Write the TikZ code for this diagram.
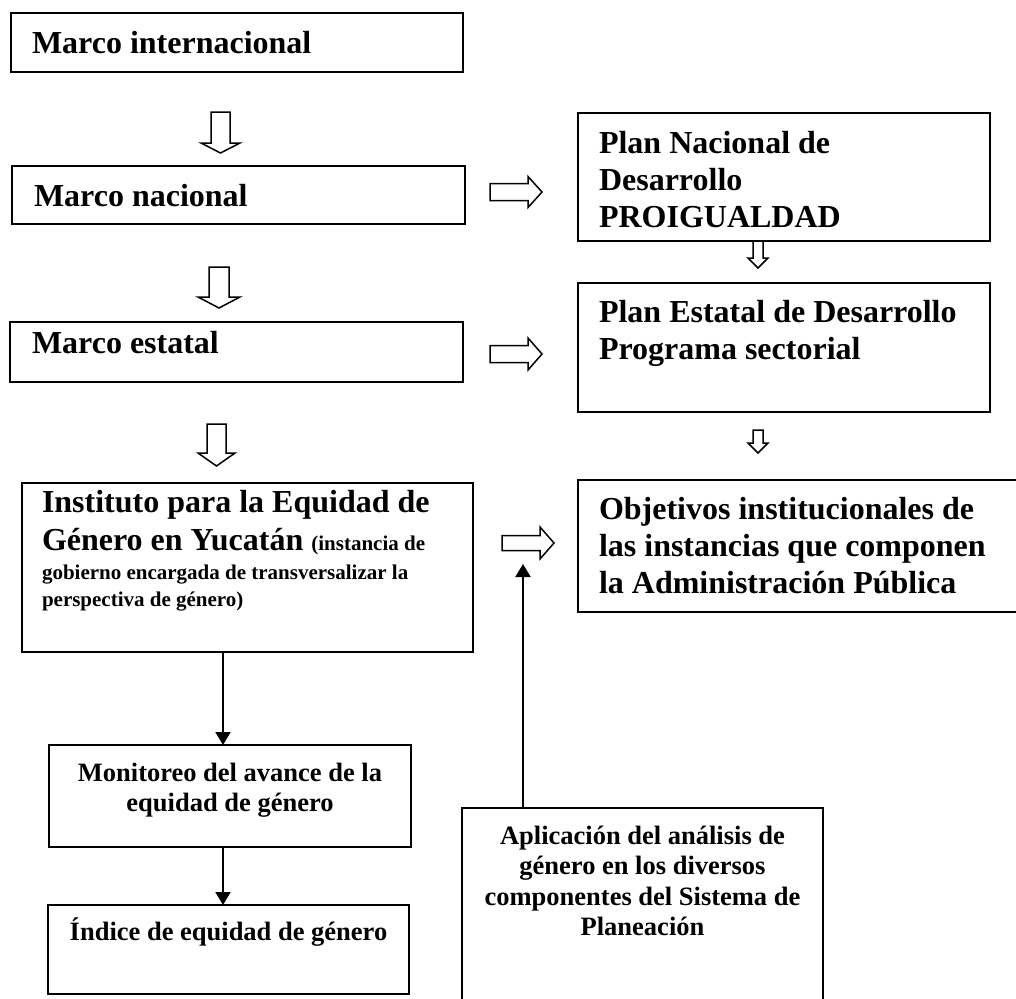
\documentclass[tikz,border=0pt]{standalone}
\usepackage{fontspec}
\setmainfont{Liberation Serif}
\usetikzlibrary{arrows.meta}
\begin{document}
\begin{tikzpicture}[x=1pt,y=-1pt,
  box/.style={draw, line width=2pt, rectangle, inner sep=0pt, outer sep=0pt},
  txt/.style={inner sep=0pt, outer sep=0pt, anchor=base west, font=\bfseries\fontsize{32}{37}\selectfont},
  ctxt/.style={inner sep=0pt, outer sep=0pt, anchor=base, font=\bfseries\fontsize{26.5}{30.5}\selectfont},
  blk/.style={draw, line width=1.5pt, line join=miter, fill=white},
  conn/.style={line width=2pt, -{Triangle[length=13pt,width=15pt]}}]
\clip (0,0) rectangle (1016,998);
\fill[white] (0,0) rectangle (1016,998);

% left column boxes
\node[box, minimum width=452pt, minimum height=59pt] (b1) at (237,42.5) {};
\node[txt] (t1) at (32,53) {Marco internacional};
\node[box, minimum width=453pt, minimum height=58pt] (b2) at (238.5,195) {};
\node[txt] (t2) at (34,206) {Marco nacional};
\node[box, minimum width=453pt, minimum height=60pt] (b3) at (236.5,352) {};
\node[txt] (t3) at (32,353) {Marco estatal};

% right column boxes
\node[box, minimum width=412pt, minimum height=128pt] (pn) at (784,177) {};
\node[txt] (tpn) at (599,153) {\parbox[t]{380pt}{\raggedright Plan Nacional de\\Desarrollo\\PROIGUALDAD}};
\node[box, minimum width=412pt, minimum height=129pt] (pe) at (784,347.5) {};
\node[txt] (tpe) at (599,322) {\parbox[t]{390pt}{\raggedright Plan Estatal de Desarrollo\\Programa sectorial}};
\node[box, minimum width=446pt, minimum height=132pt] (ob) at (801,546) {};
\node[txt] (tob) at (599,519) {\parbox[t]{420pt}{\raggedright Objetivos institucionales de\\las instancias que componen\\la Administración Pública}};

% Instituto
\node[box, minimum width=451pt, minimum height=169pt] (in) at (247.5,567.5) {};
\node[txt] (ti1) at (42,512) {Instituto para la Equidad de};
\node[txt] (ti2) at (42,550) {Género en Yucatán {\fontsize{21}{25}\selectfont (instancia de}};
\node[txt, font=\bfseries\fontsize{21}{25}\selectfont] (ti3) at (42,579) {gobierno encargada de transversalizar la};
\node[txt, font=\bfseries\fontsize{21}{25}\selectfont] (ti4) at (42,606) {perspectiva de género)};

% bottom boxes
\node[box, minimum width=362pt, minimum height=102pt] (mo) at (230,796) {};
\node[ctxt] (tmo) at (230,781) {\parbox[t]{350pt}{\centering Monitoreo del avance de la\\equidad de género}};
\node[box, minimum width=361pt, minimum height=89pt] (id) at (228.5,949.5) {};
\node[ctxt] (tid) at (228.5,940) {Índice de equidad de género};
\node[box, minimum width=361pt, minimum height=202pt] (ap) at (642.5,909) {};
\node[ctxt] (tap) at (642.5,844) {\parbox[t]{350pt}{\centering Aplicación del análisis de\\género en los diversos\\componentes del Sistema de\\Planeación}};

% block arrows down (left column)
\draw[blk] (211,112) -- (230,112) -- (230,143) -- (240,143) -- (220.5,153) -- (201,143) -- (211,143) -- cycle;
\draw[blk] (209,267) -- (229,267) -- (229,297) -- (240,297) -- (219,308) -- (198,297) -- (209,297) -- cycle;
\draw[blk] (207,424) -- (226,424) -- (226,453) -- (235,453) -- (216.5,466) -- (198,453) -- (207,453) -- cycle;

% small block arrows down (right column)
\draw[blk] (753,241) -- (763,241) -- (763,258) -- (768,258) -- (758,268) -- (748,258) -- (753,258) -- cycle;
\draw[blk] (753,430) -- (763,430) -- (763,443) -- (768,443) -- (758,453) -- (748,443) -- (753,443) -- cycle;

% block arrows right
\draw[blk] (490,183.5) -- (528,183.5) -- (528,176.5) -- (542,192) -- (528,207.5) -- (528,200.5) -- (490,200.5) -- cycle;
\draw[blk] (490,345.5) -- (528,345.5) -- (528,338) -- (542,354) -- (528,370) -- (528,362.5) -- (490,362.5) -- cycle;
\draw[blk] (502,535.5) -- (540,535.5) -- (540,527) -- (554,543) -- (540,559) -- (540,550.5) -- (502,550.5) -- cycle;

% line connectors
\draw[conn] ([xshift=201pt]in.south west) -- ([xshift=201pt]in.south west |- mo.north);
\draw[conn] ([xshift=174pt]mo.south west) -- ([xshift=174pt]mo.south west |- id.north);
\coordinate (apt) at (523,564);
\draw[conn] ([xshift=61pt]ap.north west) -- (apt);
\end{tikzpicture}
\end{document}
